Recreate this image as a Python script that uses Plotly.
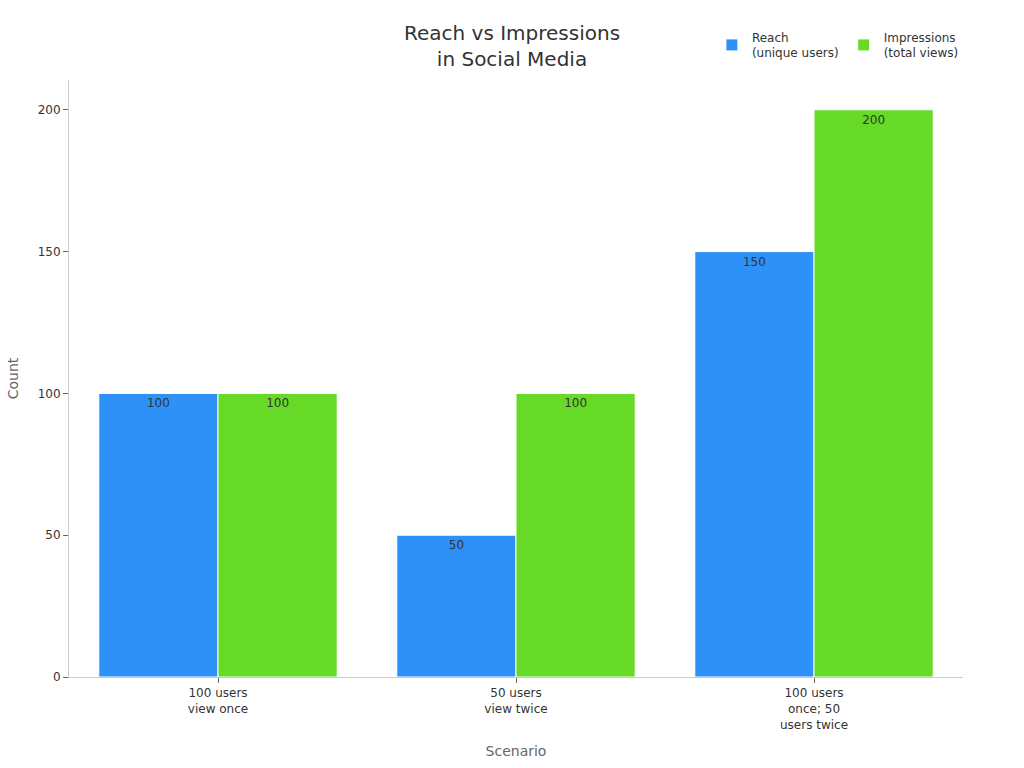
import plotly.graph_objects as go

categories = ["100 users<br>view once", "50 users<br>view twice", "100 users<br>once; 50<br>users twice"]
reach = [100, 50, 150]
impressions = [100, 100, 200]
series_names = ["Reach<br>(unique users)", "Impressions<br>(total views)"]
colors = ["#2E91F8", "#66DA26"]

fig = go.Figure()
for name, vals, col in zip(series_names, [reach, impressions], colors):
    fig.add_trace(go.Bar(
        x=categories, y=vals, name=name,
        marker=dict(color=col, line=dict(color="white", width=1)),
        text=vals, textposition="inside", insidetextanchor="end",
        textfont=dict(color="#333333", size=12),
    ))

fig.update_layout(
    barmode="group", bargap=0.2, bargroupgap=0,
    width=1024, height=768,
    margin=dict(l=69, r=61, t=80, b=91, autoexpand=False),
    paper_bgcolor="white", plot_bgcolor="white",
    font=dict(family="DejaVu Sans", size=12, color="#333333"),
    title=dict(text="Reach vs Impressions<br>in Social Media", x=0.5, xanchor="center",
               y=0.948, yanchor="middle", font=dict(size=20, color="#333333")),
    legend=dict(orientation="h", x=1.001, xanchor="right", y=0.941, yanchor="middle",
                yref="container", font=dict(size=12, color="#333333")),
    xaxis=dict(title=dict(text="Scenario", font=dict(size=14, color="#666666"), standoff=15),
               showline=True, linecolor="#cccccc", ticks="outside", tickcolor="#666666",
               ticklen=5, tickfont=dict(size=12, color="#333333")),
    yaxis=dict(title=dict(text="Count", font=dict(size=14, color="#666666")),
               range=[0, 210.5], tickvals=[0, 50, 100, 150, 200], showgrid=False,
               showline=True, linecolor="#cccccc", ticks="outside", tickcolor="#666666",
               ticklen=5, tickfont=dict(size=12, color="#333333"), zeroline=False),
    uniformtext=dict(mode=False),
)
fig.write_html("out.html")
